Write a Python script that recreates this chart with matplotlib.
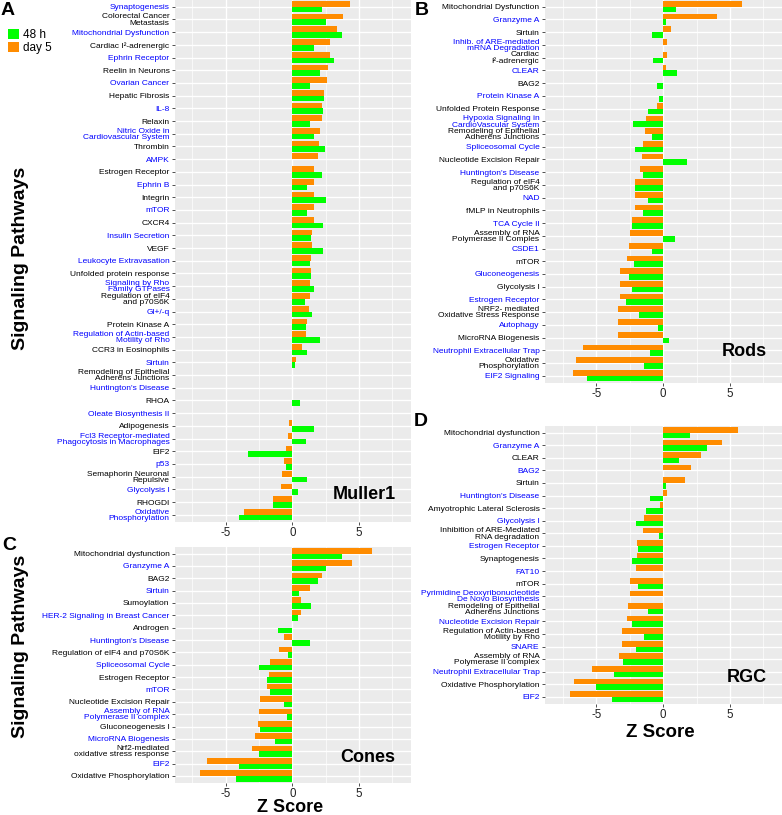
import numpy as np
import matplotlib
matplotlib.use('Agg')
import matplotlib.pyplot as plt
from matplotlib.patches import Patch

plt.rcParams['font.family'] = ['Liberation Sans', 'DejaVu Sans']

GREEN = '#00FF00'
ORANGE = '#FF8C00'
BLUE = '#0000FF'

# ---- A: Muller1 ----
muller_paths = ['Synaptogenesis', 'Colorectal Cancer\nMetastasis', 'Mitochondrial Dysfunction',
                'Cardiac I²-adrenergic', 'Ephrin Receptor', 'Reelin in Neurons', 'Ovarian Cancer',
                'Hepatic Fibrosis', 'IL-8', 'Relaxin', 'Nitric Oxide in\nCardiovascular System',
                'Thrombin', 'AMPK', 'Estrogen Receptor', 'Ephrin B', 'Integrin', 'mTOR', 'CXCR4',
                'Insulin Secretion', 'VEGF', 'Leukocyte Extravasation', 'Unfolded protein response',
                'Signaling by Rho\nFamily GTPases', 'Regulation of eIF4\nand p70S6K', 'Gl+/-q',
                'Protein Kinase A', 'Regulation of Actin-based\nMotility of Rho', 'CCR3 in Eosinophils',
                'Sirtuin', 'Remodeling of Epithelial\nAdherens Junctions', "Huntington's Disease",
                'RHOA', 'Oleate Biosynthesis II', 'Adipogenesis',
                'Fcl3 Receptor-mediated\nPhagocytosis in Macrophages', 'EIF2', 'p53',
                'Semaphorin Neuronal\nRepulsive', 'Glycolysis I', 'RHOGDI', 'Oxidative\nPhosphorylation']
muller_48h = [2.25, 2.5, 3.75, 1.6, 3.1, 2.05, 1.3, 2.4, 2.3, 1.3, 1.6, 2.45, 0, 2.25, 1.1, 2.5, 1.1,
              2.3, 1.4, 2.3, 1.3, 1.4, 1.6, 0.95, 1.5, 1.0, 2.1, 1.1, 0.2, 0, 0, 0.55, 0, 1.6, 1.0,
              -3.3, -0.5, 1.1, 0.4, -1.45, -4.0]
muller_day5 = [4.3, 3.8, 3.35, 2.85, 2.8, 2.65, 2.6, 2.4, 2.2, 2.2, 2.1, 2.0, 1.9, 1.65, 1.65, 1.6, 1.6,
               1.6, 1.5, 1.5, 1.4, 1.4, 1.3, 1.3, 1.25, 1.1, 1.05, 0.7, 0.3, 0, 0, 0, 0, -0.25, -0.3,
               -0.45, -0.65, -0.75, -0.85, -1.45, -3.6]

# ---- B: Rods ----
rods_paths = ['Mitochondrial Dysfunction', 'Granzyme A', 'Sirtuin',
              'Inhib. of ARE-mediated\nmRNA Degradation', 'Cardiac\nI²-adrenergic', 'CLEAR', 'BAG2',
              'Protein Kinase A', 'Unfolded Protein Response',
              'Hypoxia Signaling in\nCardioVascular System',
              'Remodeling of Epithelial\nAdherens Junctions', 'Spliceosomal Cycle',
              'Nucleotide Excision Repair', "Huntington's Disease", 'Regulation of eIF4\nand p70S6K',
              'NAD', 'fMLP in Neutrophils', 'TCA Cycle II', 'Assembly of RNA\nPolymerase II Comples',
              'CSDE1', 'mTOR', 'Gluconeogenesis', 'Glycolysis I', 'Estrogen Receptor',
              'NRF2- mediated\nOxidative Stress Response', 'Autophagy', 'MicroRNA Biogenesis',
              'Neutrophil Extracellular Trap', 'Oxidative\nPhosphorylation', 'EIF2 Signaling']
rods_48h = [0.95, 0.2, -0.8, 0, -0.75, 1.0, -0.45, -0.3, -1.1, -2.25, -0.8, -2.1, 1.8, -1.5, -2.1,
            -1.1, -1.5, -2.3, 0.9, -0.8, -2.2, -2.55, -2.35, -2.75, -1.8, -0.4, 0.4, -1.0, -1.45, -5.7]
rods_day5 = [5.9, 4.0, 0.55, 0.3, 0.3, 0.2, 0, 0, -0.45, -1.3, -1.35, -1.5, -1.6, -1.75, -2.1, -2.1,
             -2.1, -2.3, -2.5, -2.55, -2.7, -3.2, -3.2, -3.2, -3.35, -3.4, -3.4, -6.0, -6.55, -6.75]

# ---- C: Cones ----
cones_paths = ['Mitochondrial dysfunction', 'Granzyme A', 'BAG2', 'Sirtuin', 'Sumoylation',
               'HER-2 Signaling in Breast Cancer', 'Androgen', "Huntington's Disease",
               'Regulation of eIF4 and p70S6K', 'Spliceosomal Cycle', 'Estrogen Receptor', 'mTOR',
               'Nucleotide Excision Repair', 'Assembly of RNA\nPolymerase II complex',
               'Gluconeogenesis I', 'MicroRNA Biogenesis',
               'Nrf2-mediated\noxidative stress response', 'EIF2', 'Oxidative Phosphorylation']
cones_48h = [3.7, 2.5, 1.9, 0.5, 1.4, 0.4, -1.1, 1.3, -0.35, -2.5, -1.9, -1.7, -0.6, -0.4, -2.45,
             -1.3, -2.5, -4.0, -4.2]
cones_day5 = [6.0, 4.5, 2.2, 1.3, 0.65, 0.65, 0, -0.6, -1.0, -1.7, -1.75, -1.9, -2.4, -2.5, -2.6,
              -2.8, -3.05, -6.4, -6.95]

# ---- D: RGC ----
rgc_paths = ['Mitochondrial dysfunction', 'Granzyme A', 'CLEAR', 'BAG2', 'Sirtuin',
             "Huntington's Disease", 'Amyotrophic Lateral Sclerosis', 'Glycolysis I',
             'Inhibition of ARE-Mediated\nRNA degradation', 'Estrogen Receptor', 'Synaptogenesis',
             'FAT10', 'mTOR', 'Pyrimidine Deoxyribonucleotide\nDe Novo Biosynthesis',
             'Remodeling of Epithelial\nAdherens Junctions', 'Nucleotide Excision Repair',
             'Regulation of Actin-based\nMotility by Rho', 'SNARE',
             'Assembly of RNA\nPolymerase II complex', 'Neutrophil Extracellular Trap',
             'Oxidative Phosphorylation', 'EIF2']
rgc_48h = [2.0, 3.3, 1.15, 0, 0.2, -1.0, -1.3, -2.0, -0.3, -1.85, -2.3, 0, -1.9, 0, -1.1, -2.3,
           -1.4, -2.0, -3.0, -3.7, -5.0, -3.85]
rgc_day5 = [5.6, 4.4, 2.8, 2.1, 1.65, 0.3, -0.25, -1.4, -1.5, -1.95, -1.95, -2.0, -2.45, -2.45,
            -2.65, -2.7, -3.05, -3.1, -3.3, -5.35, -6.65, -7.0]

W, H = 782, 815
fig = plt.figure(figsize=(W / 100, H / 100), dpi=100)


def px_axes(x0, y0, x1, y1):
    return fig.add_axes([x0 / W, 1 - y1 / H, (x1 - x0) / W, (y1 - y0) / H])


def draw_panel(ax, labels, h48, d5, first_blue, name, name_y, xlim):
    n = len(labels)
    pos = np.arange(n)[::-1]
    ax.set_facecolor('#EBEBEB')
    ax.barh(pos + 0.225, d5, height=0.45, color=ORANGE, linewidth=0)
    ax.barh(pos - 0.225, h48, height=0.45, color=GREEN, linewidth=0)
    ax.set_xlim(*xlim)
    ax.set_ylim(-0.57, n - 1 + 0.53)
    ax.set_xticks([-5, 0, 5])
    ax.set_xticklabels(['-5', '0', '5'])
    ax.set_xticks([-7.5, -2.5, 2.5, 7.5], minor=True)
    ax.set_yticks(pos)
    ax.set_yticklabels(labels, fontsize=6, linespacing=0.85)
    for i, t in enumerate(ax.get_yticklabels()):
        blue = (i % 2 == 0) == first_blue
        t.set_color(BLUE if blue else 'black')
    ax.set_axisbelow(True)
    ax.grid(True, which='major', color='white', lw=1.0)
    ax.grid(True, which='minor', axis='x', color='white', lw=0.5)
    for s in ax.spines.values():
        s.set_visible(False)
    ax.tick_params(axis='both', which='major', length=2.5, width=0.6, color='#333333', pad=1.5)
    ax.tick_params(axis='x', which='major', labelsize=8.3, labelcolor='#222222', pad=0.8)
    ax.tick_params(which='minor', length=0)
    ax.text(7.75, name_y, name, ha='right', va='center', fontsize=13, weight='bold')


ax_a = px_axes(175, 0, 411, 522)
draw_panel(ax_a, muller_paths, muller_48h, muller_day5, True, 'Muller1', 1.6, (-8.8, 8.9))
ax_b = px_axes(545, 0, 782, 383)
draw_panel(ax_b, rods_paths, rods_48h, rods_day5, False, 'Rods', 1.9, (-8.85, 8.9))
ax_c = px_axes(175, 547, 411, 783)
draw_panel(ax_c, cones_paths, cones_48h, cones_day5, False, 'Cones', 1.5, (-8.8, 8.9))
ax_d = px_axes(545, 426, 782, 704)
draw_panel(ax_d, rgc_paths, rgc_48h, rgc_day5, False, 'RGC', 1.5, (-8.85, 8.9))

# panel letters
for letter, x, y in [('A', 1, 2), ('B', 415, 2), ('C', 2, 537), ('D', 414, 413)]:
    fig.text(x / W, 1 - y / H, letter, ha='left', va='top', fontsize=14, weight='bold')

# axis titles
fig.text(21 / W, 1 - 258 / H, 'Signaling Pathways', rotation=90, ha='center', va='center',
         fontsize=14, weight='bold')
fig.text(21 / W, 1 - 646 / H, 'Signaling Pathways', rotation=90, ha='center', va='center',
         fontsize=14, weight='bold')
fig.text(290 / W, 1 - 811.5 / H, 'Z Score', ha='center', va='baseline', fontsize=13, weight='bold')
fig.text(660 / W, 1 - 737 / H, 'Z Score', ha='center', va='baseline', fontsize=13.5, weight='bold')

# legend
handles = [Patch(facecolor=GREEN, label='48 h'), Patch(facecolor=ORANGE, label='day 5')]
fig.legend(handles=handles, loc='upper left', bbox_to_anchor=(8 / W, 1 - 29 / H), frameon=False,
           fontsize=8.5, handlelength=0.95, handleheight=0.95, handletextpad=0.35,
           labelspacing=0.05, borderpad=0, borderaxespad=0)

fig.savefig('out.png', dpi=100, facecolor='white')
